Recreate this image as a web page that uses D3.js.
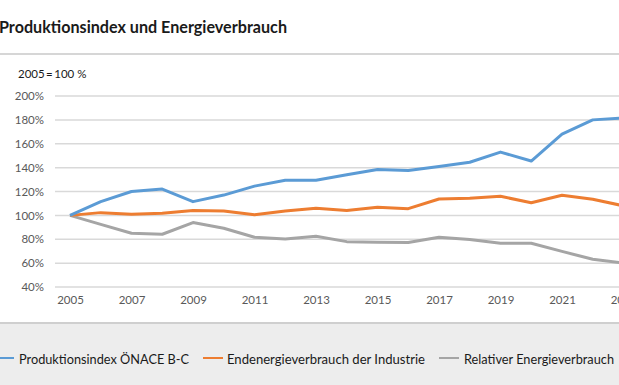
<!DOCTYPE html>
<html>
<head>
<meta charset="utf-8">
<script src="https://cdn.jsdelivr.net/npm/d3@7"></script>
<style>
  body { margin: 0; background: #fff; }
  svg { display: block; font-family: "Lato", "Open Sans", sans-serif; }
</style>
</head>
<body>
<svg class="chart"></svg>
<script>
// data (2005 = 100 %)
var years = [2005, 2006, 2007, 2008, 2009, 2010, 2011, 2012, 2013, 2014,
             2015, 2016, 2017, 2018, 2019, 2020, 2021, 2022, 2023];
var produktion = [100, 111.5, 120, 122, 111.5, 117, 124.5, 129.5, 129.5, 134,
                  138.5, 137.5, 141, 144.5, 153, 145.5, 168, 180, 181.5];
var endenergie = [100, 102.3, 100.9, 101.8, 104, 103.7, 100.5, 103.7, 106, 104,
                  106.8, 105.6, 113.7, 114.3, 116, 110.6, 116.8, 113.5, 108];
var relativ = [100, 92.5, 85, 84.2, 94, 89.2, 81.7, 80.2, 82.5, 78,
               77.5, 77.2, 81.7, 79.7, 76.7, 76.7, 69.8, 63.3, 60];
var yTicks = [40, 60, 80, 100, 120, 140, 160, 180, 200];
var xTicks = [2005, 2007, 2009, 2011, 2013, 2015, 2017, 2019, 2021, 2023];
var seriesNames = ["Produktionsindex ÖNACE B-C", "Endenergieverbrauch der Industrie", "Relativer Energieverbrauch"];

var colors = ["#5b9bd5", "#ed7d31", "#a5a5a5"];
var width = 619, height = 385;

var chart = d3.select(".chart")
    .attr("width", width)
    .attr("height", height);

var xScale = d3.scaleLinear().domain([2005, 2023]).range([70, 623.5]);
var yScale = d3.scaleLinear().domain([40, 200]).range([287, 96]);

// title + rule
chart.append("text")
    .attr("x", -1).attr("y", 33)
    .attr("font-size", 17).attr("font-weight", "bold")
    .attr("fill", "#1a1a1a")
    .attr("textLength", 288).attr("lengthAdjust", "spacingAndGlyphs")
    .text("Produktionsindex und Energieverbrauch");

chart.append("line")
    .attr("x1", 0).attr("x2", width).attr("y1", 54).attr("y2", 54)
    .attr("stroke", "#c8c8c8").attr("stroke-width", 1.5);

chart.append("text")
    .attr("x", 18).attr("y", 78)
    .attr("font-size", 11.5).attr("fill", "#1a1a1a")
    .text("2005\u2009=\u2009100 %");

// gridlines
chart.append("g")
    .selectAll("line")
    .data(yTicks)
    .enter().append("line")
    .attr("x1", 55).attr("x2", width)
    .attr("y1", function(d){ return yScale(d); })
    .attr("y2", function(d){ return yScale(d); })
    .attr("stroke", "#d9d9d9").attr("stroke-width", 1.5);

// y axis
var yAxis = chart.append("g")
    .attr("transform", "translate(44,0)")
    .call(d3.axisLeft(yScale).tickValues(yTicks).tickSize(0).tickPadding(0)
      .tickFormat(function(d){ return d + "%"; }));
yAxis.select(".domain").remove();
yAxis.selectAll("text").attr("font-size", 11.5).attr("fill", "#595959")
    .attr("font-family", "Lato, sans-serif");

// x axis
var xAxis = chart.append("g")
    .attr("transform", "translate(0,296)")
    .call(d3.axisBottom(xScale).tickValues(xTicks).tickSize(0).tickPadding(0)
      .tickFormat(d3.format("d")));
xAxis.select(".domain").remove();
xAxis.selectAll("text").attr("font-size", 11.5).attr("fill", "#595959")
    .attr("font-family", "Lato, sans-serif");

// lines
var line = d3.line()
    .x(function(d, i){ return xScale(years[i]); })
    .y(function(d){ return yScale(d); });

[relativ, endenergie, produktion].forEach(function(s, k){
  chart.append("path")
      .datum(s)
      .attr("fill", "none")
      .attr("stroke", colors[2 - k])
      .attr("stroke-width", 3)
      .attr("stroke-linejoin", "round")
      .attr("d", line);
});

// legend panel
chart.append("rect")
    .attr("x", 0).attr("y", 323).attr("width", width).attr("height", height - 323)
    .attr("fill", "#ededed");
chart.append("line")
    .attr("x1", 0).attr("x2", width).attr("y1", 323).attr("y2", 323)
    .attr("stroke", "#cfcfcf").attr("stroke-width", 2);

var legendPos = [
  {lx: -6, tx: 19, w: 170},
  {lx: 203, tx: 227, w: 198},
  {lx: 439, tx: 464, w: 150}
];
var leg = chart.append("g").selectAll("g")
    .data(seriesNames)
    .enter().append("g");
leg.append("line")
    .attr("x1", function(d, i){ return legendPos[i].lx; })
    .attr("x2", function(d, i){ return legendPos[i].lx + 20; })
    .attr("y1", 358).attr("y2", 358)
    .attr("stroke", function(d, i){ return colors[i]; })
    .attr("stroke-width", 2);
leg.append("text")
    .attr("x", function(d, i){ return legendPos[i].tx; })
    .attr("y", 363.5)
    .attr("font-size", 14).attr("fill", "#1a1a1a")
    .attr("textLength", function(d, i){ return legendPos[i].w; })
    .attr("lengthAdjust", "spacingAndGlyphs")
    .text(function(d){ return d; });
</script>
</body>
</html>
